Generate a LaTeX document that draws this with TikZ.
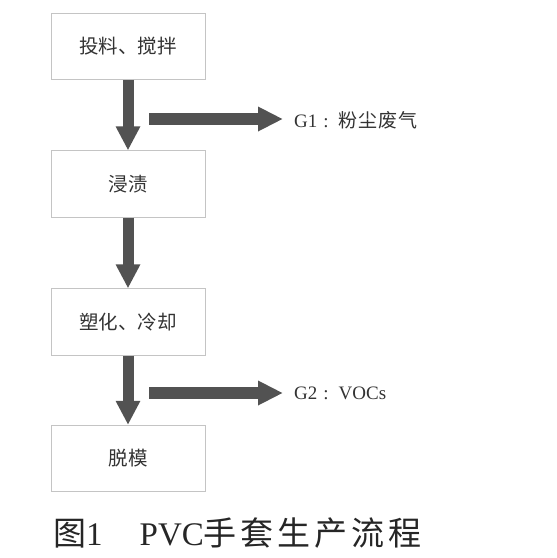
\documentclass[tikz,border=0pt]{standalone}
\usepackage{fontspec}
\setmainfont{Liberation Serif}
\newfontfamily\cjk{Noto Sans CJK SC}
\usetikzlibrary{arrows.meta}

\definecolor{boxline}{HTML}{C4C4C4}
\definecolor{arrowgray}{HTML}{525252}
\definecolor{textgray}{HTML}{333333}

\tikzset{
  stepbox/.style={draw=boxline, line width=0.8pt, minimum width=154pt,
    minimum height=66.5pt, inner sep=0pt, text=textgray,
    font=\cjk\fontsize{19.5}{21}\selectfont},
  flow/.style={draw=arrowgray, line width=11pt,
    -{Triangle[width=23pt,length=24pt]}},
  side/.style={draw=arrowgray, line width=12pt,
    -{Triangle[width=23pt,length=25pt]}},
  outlabel/.style={anchor=west, inner sep=0pt, text=textgray,
    font=\fontsize{19}{21}\selectfont},
}

\begin{document}
\begin{tikzpicture}[x=1pt,y=-1pt]
        \useasboundingbox (0,0) rectangle (557,558);

        % process steps
        \node[stepbox] (feed) at (128,46.3) {投料、搅拌};
        \node[stepbox] (dip) at (128,184) {浸渍};
        \node[stepbox] (cure) at (128,322) {塑化、冷却};
        \node[stepbox] (strip) at (128,458.5) {脱模};

        % main flow
        \draw[flow] (feed) -- (dip);
        \draw[flow] (dip) -- (cure);
        \draw[flow] (cure) -- (strip);

        % emissions
        \node[outlabel] (g1) at (294,120) {G1\hspace{6pt}:\hspace{10pt}{\cjk\addfontfeatures{LetterSpace=5}粉尘废气}};
        \node[outlabel] (g2) at (294,393) {G2\hspace{6pt}:\hspace{10pt}VOCs};
        \coordinate (g1s) at (149,119);
        \coordinate (g2s) at (149,393);
        \draw[side] (g1s) -- ([xshift=-11pt]g1.west |- g1s);
        \draw[side] (g2s) -- ([xshift=-11pt]g2.west |- g2s);

        % caption
        \node[anchor=west, inner sep=0pt, text=black!85,
          font=\fontsize{33}{35}\selectfont] (cap) at (53,533)
          {{\cjk 图}1\hspace{37pt}PVC{\cjk\addfontfeatures{LetterSpace=12}手套生产流程}};
    \end{tikzpicture}
\end{document}
